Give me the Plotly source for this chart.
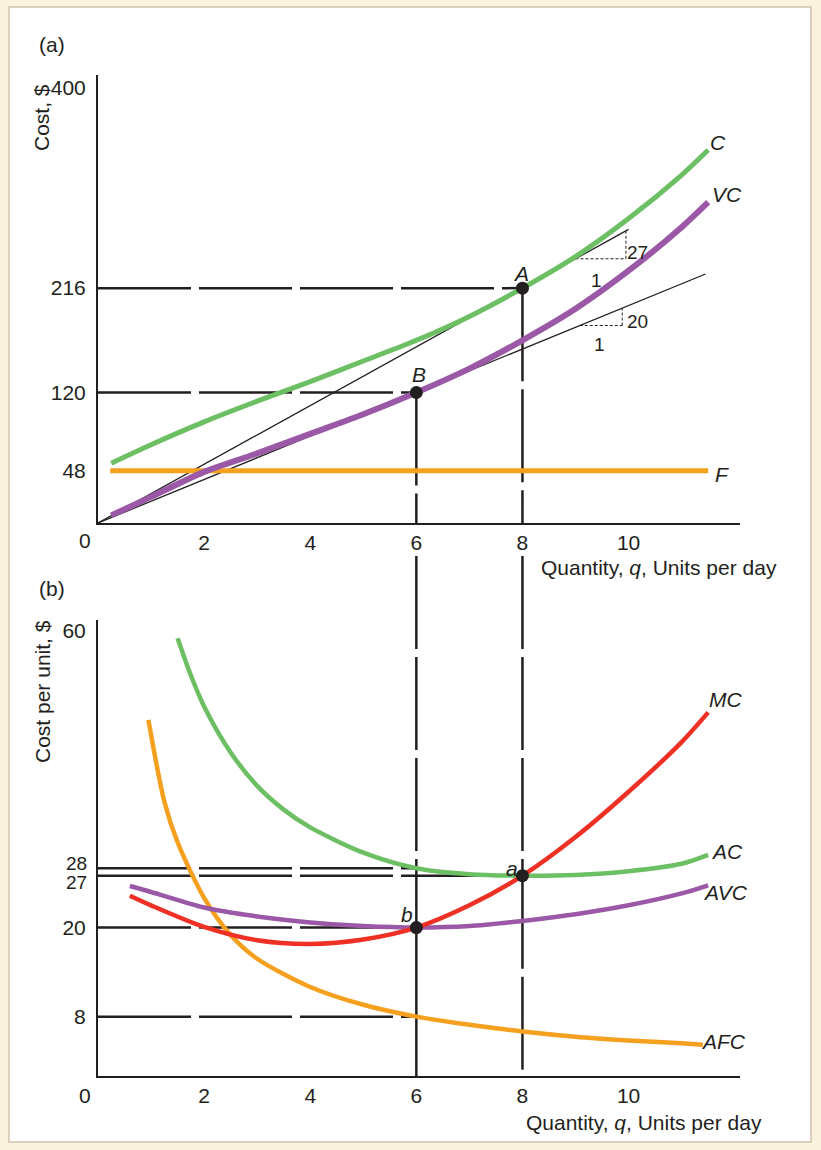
import plotly.graph_objects as go

# ---------------- data ----------------
# Panel (a): total cost curves (Cost, $)
q_cost = [0.25, 1, 2, 3, 4, 5, 6, 7, 8, 9, 10, 11, 11.5]
C_cost = [55, 72, 93, 112, 130, 149, 168, 190, 216, 245, 280, 320, 343]
VC_cost = [7, 24, 47, 64, 82, 100, 120, 142, 168, 197, 232, 272, 295]
F_q = [0.23, 11.5]
F_cost = [48, 48]
ray_slope = [27, 20]          # rays from origin through A and B
ray_end_q = [10.0, 11.45]
tri_start_q = [9.0, 9.08]     # slope triangles
tri_run = [0.95, 0.8]
ptA_q = [8, 6]
ptA_cost = [216, 120]
ptA_lab = ["A", "B"]
yticks_a = [48, 120, 216, 400]

# Panel (b): per-unit cost curves (Cost per unit, $)
q_afc = [0.95, 1.25, 1.5, 2, 2.5, 3, 4, 5, 6, 7, 8, 9, 10, 11, 11.4]
AFC = [48, 37, 31.5, 24, 19, 15.8, 12, 9.6, 8, 6.9, 6, 5.3, 4.8, 4.4, 4.2]
q_ac = [1.5, 1.75, 2, 2.5, 3, 3.5, 4, 5, 6, 7, 8, 9, 10, 11, 11.5]
AC = [59, 54, 49.8, 43.6, 39.1, 35.9, 33.5, 30.1, 28, 27.2, 27, 27.1, 27.6, 28.6, 29.8]
q_avc = [0.6, 1, 2, 3, 4, 5, 6, 7, 8, 9, 10, 11, 11.5]
AVC = [25.6, 24.8, 22.7, 21.5, 20.7, 20.2, 20, 20.2, 20.9, 21.8, 23.0, 24.6, 25.7]
q_mc = [0.6, 1, 2, 3, 4, 5, 6, 7, 8, 9, 10, 11, 11.5]
MC = [24.3, 23.0, 20.1, 18.3, 17.8, 18.4, 20, 23.0, 27, 32.2, 38.3, 45, 49]
ptB_q = [8, 6]
ptB_val = [27, 20]
ptB_lab = ["a", "b"]
yticks_b = [8, 20, 60]

xticks = [2, 4, 6, 8, 10]

# ---------------- style ----------------
W, H = 821, 1150
INK = "#231f20"
GREEN = "#6cbf63"
PURPLE = "#9b58a6"
ORANGE = "#f6a01f"
RED = "#ee3124"
FONT = "Liberation Sans, Arial, sans-serif"
FS = 21

def px_x(p):
    return p / W

def px_y(p):
    return 1 - p / H

X_DOM = [px_x(98), px_x(740)]
YA_DOM = [px_y(523), px_y(75)]
YB_DOM = [px_y(1076), px_y(620)]
X_RANGE = [0, 12.1]
YA_RANGE = [0, 412]
YB_RANGE = [0, 61.45]

def yb_paper(v):
    return YB_DOM[0] + v / YB_RANGE[1] * (YB_DOM[1] - YB_DOM[0])

fig = go.Figure()

# rays through A and B (panel a)
for s, e in zip(ray_slope, ray_end_q):
    fig.add_trace(go.Scatter(x=[0, e], y=[0, s * e], mode="lines",
                             line=dict(color=INK, width=1.3),
                             xaxis="x", yaxis="y", hoverinfo="skip"))

def curve(x, y, color, width, xa, ya):
    fig.add_trace(go.Scatter(x=x, y=y, mode="lines",
                             line=dict(color=color, width=width, shape="spline", smoothing=0.8),
                             xaxis=xa, yaxis=ya, hoverinfo="skip"))

curve(F_q, F_cost, ORANGE, 5, "x", "y")
curve(q_cost, C_cost, GREEN, 5, "x", "y")
curve(q_cost, VC_cost, PURPLE, 6, "x", "y")

curve(q_afc, AFC, ORANGE, 4.5, "x2", "y2")
curve(q_ac, AC, GREEN, 4.5, "x2", "y2")
curve(q_avc, AVC, PURPLE, 4.5, "x2", "y2")
curve(q_mc, MC, RED, 4.5, "x2", "y2")

fig.add_trace(go.Scatter(x=ptA_q, y=ptA_cost, mode="markers",
                         marker=dict(color=INK, size=13), xaxis="x", yaxis="y"))
fig.add_trace(go.Scatter(x=ptB_q, y=ptB_val, mode="markers",
                         marker=dict(color=INK, size=13), xaxis="x2", yaxis="y2"))

shapes = []
# white panel with tan border
shapes.append(dict(type="rect", xref="paper", yref="paper",
                   x0=px_x(9), x1=px_x(811), y0=px_y(1142), y1=px_y(7),
                   fillcolor="white", line=dict(color="#d3c4aa", width=1.5), layer="below"))

DASH = "93px,8px"
def dline(x0, y0, x1, y1, xref, yref, dash=DASH, width=2.5):
    shapes.append(dict(type="line", xref=xref, yref=yref, x0=x0, y0=y0, x1=x1, y1=y1,
                       line=dict(color=INK, width=width, dash=dash), layer="below"))

# horizontal guide lines
for v, q in zip(ptA_cost, ptA_q):
    dline(0, v, q, v, "x", "y")
b_levels = [(28, 6), (27, 8), (20, 6), (8, 6)]
for v, q in b_levels:
    dline(0, v, q, v, "x2", "y2")

# vertical guide lines
for q, v_top, v_bot in zip(ptA_q, ptA_cost, ptB_val):
    dline(q, v_top, q, 0, "x", "y")
    dline(q, px_y(556), q, yb_paper(v_bot), "x", "paper")
    dline(q, v_bot, q, 0, "x2", "y2", dash="solid" if q == 6 else DASH)

# slope triangles
for s, q0, run in zip(ray_slope, tri_start_q, tri_run):
    y0 = s * q0
    q1 = q0 + run
    dline(q0, y0, q1, y0, "x", "y", dash="3px,2px", width=1)
    dline(q1, y0, q1, s * q1, "x", "y", dash="3px,2px", width=1)

ann = []
def text(x, y, t, xref="paper", yref="paper", size=FS, xanchor="center", yanchor="middle",
         italic=False, angle=0, yshift=0, xshift=0, height=None):
    if italic:
        t = "<i>" + t + "</i>"
    a = dict(x=x, y=y, xref=xref, yref=yref, text=t, showarrow=False,
             xanchor=xanchor, yanchor=yanchor, textangle=angle,
             yshift=yshift, xshift=xshift,
             font=dict(family=FONT, size=size, color=INK))
    if height is not None:
        a["height"] = height
    ann.append(a)

text(px_x(52), px_y(45), "(a)")
text(px_x(52), px_y(588), "(b)")
text(px_x(42), px_y(118), "Cost, $", angle=-90)
text(px_x(43), px_y(692), "Cost per unit, $", angle=-90)
text(px_x(539), px_y(568), "Quantity, <i>q</i>, Units per day", xanchor="left")
text(px_x(524), px_y(1122), "Quantity, <i>q</i>, Units per day", xanchor="left")
# the "0" origin labels
text(0, 0, "0", xref="x", yref="y", xshift=-13, yshift=-17)
text(0, 0, "0", xref="x2", yref="y2", xshift=-13, yshift=-19)
# squeezed tick labels 28 / 27
text(px_x(89), 28, "28", yref="y2", xanchor="right", yshift=5, size=19)
text(px_x(89), 27, "27", yref="y2", xanchor="right", yshift=-7, size=19)

# curve labels
text(11.68, 350, "C", "x", "y", italic=True)
text(11.85, 302, "VC", "x", "y", italic=True)
text(11.76, 45, "F", "x", "y", italic=True)
text(7.97, 229, "A", "x", "y", italic=True)
text(6.05, 137, "B", "x", "y", italic=True)
text(11.82, 50.7, "MC", "x2", "y2", italic=True)
text(11.85, 30.2, "AC", "x2", "y2", italic=True)
text(11.82, 24.7, "AVC", "x2", "y2", italic=True)
text(11.78, 4.6, "AFC", "x2", "y2", italic=True)
text(7.8, 28.0, "a", "x2", "y2", italic=True)
text(5.82, 21.8, "b", "x2", "y2", italic=True)
# slope labels
text(10.16, 249, "27", "x", "y", size=19)
text(9.40, 223, "1", "x", "y", size=19)
text(10.16, 185, "20", "x", "y", size=19)
text(9.46, 164, "1", "x", "y", size=19)

axis_common = dict(showline=True, linecolor=INK, linewidth=2, showgrid=False,
                   zeroline=False, ticks="",
                   tickfont=dict(family=FONT, size=FS, color=INK), fixedrange=True)

fig.update_layout(
    width=W, height=H, autosize=False,
    margin=dict(l=0, r=0, t=0, b=0),
    paper_bgcolor="#fbf2df", plot_bgcolor="rgba(0,0,0,0)",
    showlegend=False,
    xaxis=dict(domain=X_DOM, range=X_RANGE, anchor="y", tickvals=xticks,
               ticklabelstandoff=0, **axis_common),
    yaxis=dict(domain=YA_DOM, range=YA_RANGE, anchor="x", tickvals=yticks_a,
               ticklabelstandoff=6, **axis_common),
    xaxis2=dict(domain=X_DOM, range=X_RANGE, anchor="y2", tickvals=xticks,
                ticklabelstandoff=0, **axis_common),
    yaxis2=dict(domain=YB_DOM, range=YB_RANGE, anchor="x2", tickvals=yticks_b,
                ticklabelstandoff=6, **axis_common),
    shapes=shapes, annotations=ann,
)

fig.write_html("out.html")
